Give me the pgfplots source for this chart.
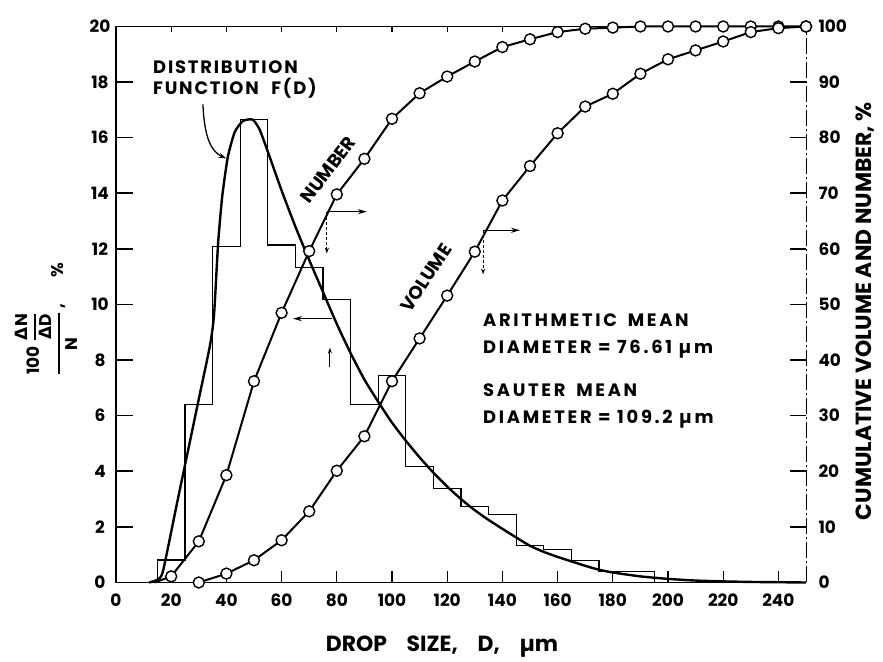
\documentclass[border=0pt]{standalone}
\usepackage{amsmath}
\usepackage{fontspec}
\setmainfont{Poppins}
\newfontfamily\spaced{Poppins}[LetterSpace=10]
\newfontfamily\wide{Poppins}[LetterSpace=15]
\newfontfamily\dv{DejaVu Sans}
\usepackage{pgfplots}
\usepackage{pgfplotstable}
\pgfplotsset{compat=1.18}
\usetikzlibrary{arrows.meta}

\newcommand\tickfont{\fontsize{17}{20}\selectfont\bfseries}
\newcommand\labfont{\fontsize{22}{26}\selectfont\bfseries}
\newcommand\notefont{\spaced\fontsize{18}{21}\selectfont\bfseries}
\newcommand\curvefont{\fontsize{18.5}{21}\selectfont\bfseries}
\newcommand\meanfont{\wide\fontsize{18}{21}\selectfont\bfseries}

% histogram of the drop count: left bin edge, percent in the bin
\pgfplotstableread{
D h
15 0
15 0.81
25 6.41
35 12.08
45 16.65
55 12.14
65 11.34
75 10.18
85 6.39
95 7.46
105 4.18
115 3.38
125 2.73
135 2.46
145 1.34
155 1.19
165 0.79
175 0.39
195 0
}\hist

% fitted distribution function F(D)
\pgfplotstableread{
D F
12 0
15 0.1
17 0.4
22 2.8
26 4.7
30 6.6
34 8.5
35.5 9.6
37 12.2
38.5 13.9
40.5 15.3
43 16.2
46 16.6
49.5 16.65
52 16.3
55 15.5
60 14.1
65 12.8
70 11.6
75 10.45
80 9.3
85 8.25
90 7.3
95 6.5
100 5.75
105 5.1
110 4.5
115 3.95
120 3.45
125 3.0
130 2.6
135 2.25
140 1.93
145 1.62
150 1.32
155 1.1
160 0.92
165 0.76
170 0.6
175 0.46
180 0.36
190 0.22
200 0.13
210 0.07
220 0.04
230 0.02
240 0.01
250 0
}\fdist

% cumulative number, percent
\pgfplotstableread{
D N
14 0
20 1.1
30 7.4
40 19.3
50 36.2
60 48.5
70 59.6
80 69.8
90 76.2
100 83.4
110 88.0
120 91.0
130 93.7
140 96.3
150 97.7
160 99.0
170 99.6
180 99.8
190 100
200 100
210 100
220 100
230 100
240 100
250 100
}\cumnum

% cumulative volume, percent
\pgfplotstableread{
D V
30 0
40 1.6
50 4.0
60 7.6
70 12.8
80 20.1
90 26.3
100 36.2
110 43.9
120 51.6
130 59.5
140 68.7
150 74.9
160 80.8
170 85.6
180 87.9
190 91.5
200 94.1
210 95.7
220 97.3
230 99.0
240 99.7
250 100
}\cumvol

\pgfplotsset{
  frame/.style={
    at={(116bp,79.5bp)}, anchor=south west,
    scale only axis, width=690bp, height=556bp,
    xmin=0, xmax=250, clip=false,
    tick align=inside,
    /pgf/number format/assume math mode=true,
    ticklabel style={font=\tickfont},
  },
}

\begin{document}
\begin{tikzpicture}
\path[use as bounding box] (0,0) rectangle (883bp,662bp);

% left scale: distribution function and histogram
\begin{axis}[
  frame,
  ymin=0, ymax=20,
  axis x line*=bottom, axis y line*=left,
  x axis line style={line width=1.8bp, -},
  y axis line style={line width=1.1bp, -},
  xtick={0,20,...,240}, ytick={0,2,...,20},
  xtick style={line width=1.2bp, black, /pgfplots/major tick length=11bp},
  ytick style={line width=1.6bp, black, /pgfplots/major tick length=17bp},
  xticklabel style={yshift=-8bp},
  yticklabel style={anchor=center, xshift=-16bp},
  xlabel={DROP\hspace{0.9em}SIZE,\hspace{0.9em}D,\hspace{0.9em}µm},
  xlabel style={font=\labfont, at={(axis description cs:0.4725,0)}, anchor=base, yshift=-69bp},
  ylabel={$\genfrac{}{}{2bp}{0}{\text{100}\;\genfrac{}{}{1.3bp}{0}{\text{{\dv Δ}N}}{\text{{\dv Δ}D}}}{\text{N}}$\,,\hspace{1.6em}\%},
  ylabel style={font=\fontsize{17}{20}\selectfont\bfseries, at={(axis description cs:-0.1007,0.474)}, anchor=center},
]
\addplot[line width=1.1bp, const plot, no marks] table[x=D, y=h] {\hist};
\addplot[line width=2.4bp, smooth, tension=0.35, no marks] table[x=D, y=F] {\fdist};

% leader from the label to the curve
\draw[line width=1.3bp, -{Stealth[length=8bp, width=5bp]}]
  (axis cs:31.5,17.2) .. controls (axis cs:32.0,16.0) and (axis cs:34.5,15.5) .. (axis cs:40.0,15.25);

% which scale each curve is read on
\draw[line width=1.5bp, -{Stealth[length=9bp, width=5bp]}] (axis cs:76.4,13.34) -- (axis cs:90.9,13.34);
\draw[line width=1.1bp, dash pattern=on 3bp off 2bp, -{Stealth[length=6bp, width=4bp]}] (axis cs:76.4,13.34) -- (axis cs:76.4,11.83);
\draw[line width=1.5bp, -{Stealth[length=9bp, width=5bp]}] (axis cs:78.3,9.49) -- (axis cs:64.1,9.49);
\draw[line width=1.1bp, -{Stealth[length=6bp, width=4bp]}] (axis cs:77.5,7.75) -- (axis cs:77.5,8.45);
\draw[line width=1.5bp, -{Stealth[length=9bp, width=5bp]}] (axis cs:133,12.67) -- (axis cs:146.4,12.67);
\draw[line width=1.1bp, dash pattern=on 3bp off 2bp, -{Stealth[length=6bp, width=4bp]}] (axis cs:133,12.67) -- (axis cs:133,11.08);
\end{axis}

% right scale: cumulative number and volume
\begin{axis}[
  frame,
  ymin=0, ymax=100,
  axis x line*=top, axis y line*=right,
  x axis line style={line width=1.8bp, -},
  y axis line style={line width=0.9bp, -, dash pattern=on 16bp off 3bp on 2bp off 3bp},
  xtick={20,40,...,240}, xticklabels={},
  xtick style={line width=1.1bp, black, /pgfplots/major tick length=6bp},
  ytick={0,10,...,100},
  ytick style={line width=1.6bp, black, /pgfplots/major tick length=16bp},
  yticklabel style={anchor=west, xshift=9bp},
  ylabel={CUMULATIVE VOLUME AND NUMBER, \%},
  ylabel style={font=\labfont, at={(axis description cs:1.086,0.488)}, anchor=center},
]
\addplot[line width=2.0bp, mark=*, mark phase=2, mark size=5.5bp,
  mark options={fill=white, draw=black, line width=1.4bp, solid}]
  table[x=D, y=N] {\cumnum};
\addplot[line width=2.0bp, mark=*, mark size=5.5bp,
  mark options={fill=white, draw=black, line width=1.4bp, solid}]
  table[x=D, y=V] {\cumvol};
\end{axis}

% annotations
\node[anchor=base west, inner sep=0, font=\notefont] at (153bp,588.7bp) {DISTRIBUTION};
\node[anchor=base west, inner sep=0, font=\notefont] at (153bp,567.4bp) {FUNCTION\hspace{0.7em}F(D)};
\node[rotate=53, inner sep=0, font=\curvefont] at (328bp,492bp) {NUMBER};
\node[rotate=56.6, inner sep=0, font=\curvefont] at (426bp,384bp) {VOLUME};
\node[anchor=base west, inner sep=0, font=\meanfont] at (483bp,335.9bp) {ARITHMETIC\hspace{0.6em}MEAN};
\node[anchor=base west, inner sep=0, font=\meanfont] at (483bp,308.9bp) {DIAMETER = 76.61 µm};
\node[anchor=base west, inner sep=0, font=\meanfont] at (483bp,265.9bp) {SAUTER\hspace{0.6em}MEAN};
\node[anchor=base west, inner sep=0, font=\meanfont] at (483bp,238.9bp) {DIAMETER = 109.2 µm};
\end{tikzpicture}
\end{document}
